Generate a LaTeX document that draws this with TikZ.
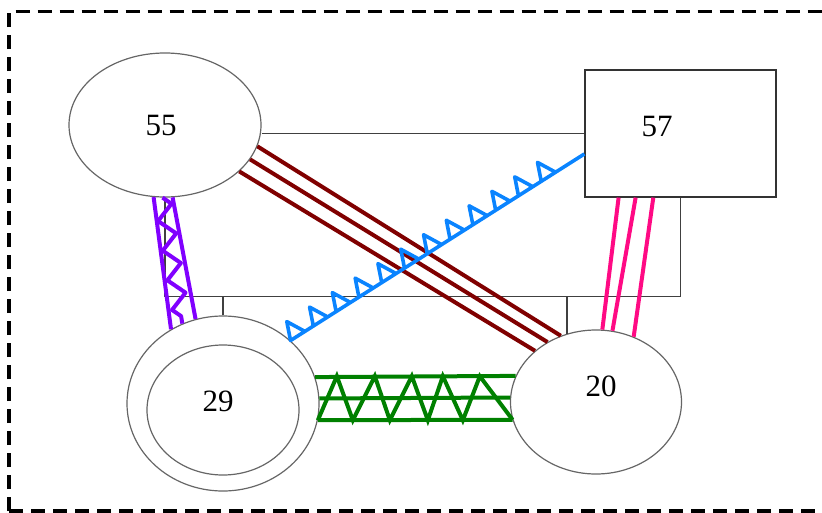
\documentclass[tikz,border=0pt]{standalone}
\usepackage{fontspec}
\setmainfont{Liberation Serif}
\usetikzlibrary{shapes.geometric,decorations.pathmorphing,calc}

\pgfdeclaredecoration{trispine}{tri}{
  \state{tri}[width=27pt]{
    \pgfpathlineto{\pgfpoint{17pt}{0pt}}
    \pgfpathlineto{\pgfpoint{7pt}{18pt}}
    \pgfpathlineto{\pgfpoint{0pt}{0pt}}
    \pgfpathlineto{\pgfpoint{17pt}{0pt}}
  }
  \state{final}{\pgfpathlineto{\pgfpointdecoratedpathlast}}
}

\definecolor{cbrown}{HTML}{800000}
\definecolor{cblue}{HTML}{0A84FF}
\definecolor{cpurple}{HTML}{8000FF}
\definecolor{cgreen}{HTML}{008000}
\definecolor{cpink}{HTML}{FF0A84}

\tikzset{
  ell/.style={ellipse, draw=black!60, line width=1.2pt, inner sep=0pt},
  box/.style={rectangle, draw=black!80, line width=1.2pt, inner sep=0pt},
  lbl/.style={inner sep=0pt, font=\fontsize{31}{31}\selectfont},
  thinl/.style={draw=black!75, line width=1.3pt},
  brownl/.style={draw=cbrown, line width=4pt},
  bluel/.style={draw=cblue, line width=3.6pt, line join=round},
  purpl/.style={draw=cpurple, line width=4pt, line join=round},
  greenl/.style={draw=cgreen, line width=4pt, line join=miter},
  pinkl/.style={draw=cpink, line width=4pt},
  framel/.style={draw=black, line width=3.4pt, dash pattern=on 14pt off 8pt}
}

\begin{document}
\begin{tikzpicture}[x=1pt,y=-1pt]
\useasboundingbox (0,0) rectangle (822,512);

% frame
\draw[framel] (9,511) -- (9,11.5) -- (840,11.5);
\draw[framel] (9,511) -- (840,511);

% nodes
\node[ell, minimum width=192pt, minimum height=144pt] (n55) at (165,125) {};
\node[box, minimum width=191pt, minimum height=127pt] (n57) at (680.5,133.5) {};
\node[ell, minimum width=192pt, minimum height=175pt] (n29) at (223,403.5) {};
\node[ell, minimum width=152pt, minimum height=130pt] (n29i) at (223,410) {};
\node[ell, minimum width=171pt, minimum height=144pt] (n20) at (596,402) {};

\node[lbl] (t55) at (161,125.5) {55};
\node[lbl] (t57) at (657,126) {57};
\node[lbl] (t29) at (218,401) {29};
\node[lbl] (t20) at (601,386) {20};

% thin orthogonal edges
\coordinate (bus) at (0,296.5);
\draw[thinl] (n55.east |- n57.west) -- (n57.west);
\draw[thinl] (n55.south) -- (n55.south |- bus) -| (n57.south);
\draw[thinl] (n29.north) -- (n29.north |- bus);
\draw[thinl] (n20.113) -- (n20.113 |- bus);

% brown triple
\foreach \a/\b in {347.7/118.8, 338.3/129.2, 328.6/140.1}
  \draw[brownl] (n55.\a) -- (n20.\b);

% blue triangles
\draw[bluel, decorate, decoration=trispine] (n29.43.3) -- (n57.192.1);

% purple truss
\draw[purpl] (n55.261.4) -- (n29.125.8);
\draw[purpl] (n55.276.3) -- (n29.108.8);
\draw[purpl, decorate, decoration={zigzag, amplitude=8pt, segment length=30pt}] (n55.268.8) -- (n29.117.3);

% green
\draw[greenl] (n29.16.8) -- (n20.162);
\draw[greenl] (n29.3.3) -- (n20.177.3);
\draw[greenl] (n29.350.1) -- (n20.192.2);
\draw[greenl] (n29.350.1) -- ++(19,-44) -- ++(16,44) -- ++(22,-44) -- ++(15,44)
  -- ++(22,-44) -- ++(16,44) -- ++(15,-44) -- ++(20,44) -- ++(17,-44) -- (n20.192.2);

% pink
\draw[pinkl] (n57.226.6) -- (n20.85.9);
\draw[pinkl] (n57.235.2) -- (n20.77.3);
\draw[pinkl] (n57.247.5) -- (n20.60.3);
\end{tikzpicture}
\end{document}
